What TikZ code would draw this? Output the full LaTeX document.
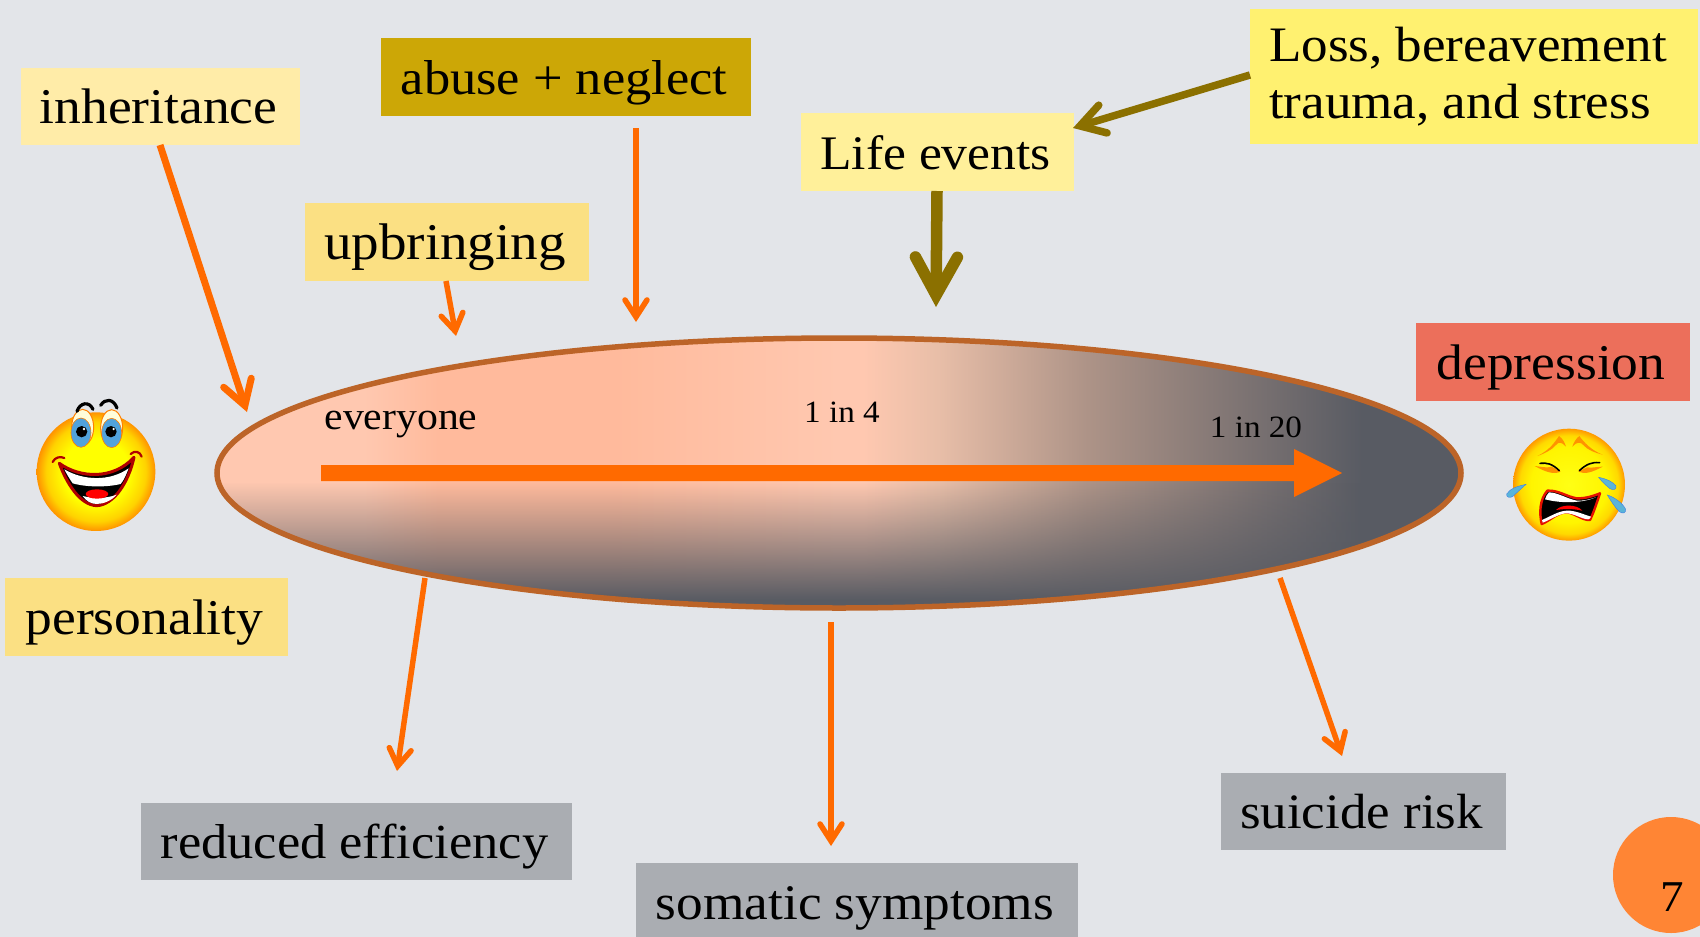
\documentclass[tikz,border=0pt]{standalone}
\usepackage{fontspec}
\setmainfont[FakeStretch=1.07]{Liberation Serif}
\usetikzlibrary{arrows.meta,fadings,shadings,shapes.geometric}
\definecolor{bg}{HTML}{E3E5E9}
\definecolor{org}{HTML}{FF6A00}
\definecolor{olv}{HTML}{8B7000}
\definecolor{grybox}{HTML}{AAADB2}
\definecolor{ellborder}{HTML}{BC6428}
\definecolor{darkg}{HTML}{585B63}
\definecolor{pchA}{HTML}{FFC8B0}
\definecolor{pchB}{HTML}{FFBA9C}
\definecolor{pchC}{HTML}{E8BEA8}
\definecolor{pchD}{HTML}{AD9387}
\definecolor{cInh}{HTML}{FFECA8}
\definecolor{cAbu}{HTML}{CCA706}
\definecolor{cUpb}{HTML}{FBE083}
\definecolor{cLif}{HTML}{FFF09A}
\definecolor{cLos}{HTML}{FFF170}
\definecolor{cDep}{HTML}{EC6F5B}
\definecolor{cPag}{HTML}{FF8534}
\definecolor{tear}{HTML}{5AB4D8}
\definecolor{mred}{HTML}{B00000}
% a tikz shade fits the path to the middle 50bp of the declared 100bp
\pgfdeclarehorizontalshading{ellshade}{100bp}{
  color(0bp)=(pchA);
  color(25bp)=(pchA);
  color(31bp)=(pchA);
  color(34bp)=(pchB);
  color(41bp)=(pchB);
  color(50bp)=(pchA);
  color(51bp)=(pchA);
  color(54bp)=(pchC);
  color(60bp)=(pchD);
  color(71bp)=(darkg);
  color(100bp)=(darkg)}
\pgfdeclareradialshading{happyface}{\pgfpointorigin}{
  color(0bp)=(yellow);
  color(14bp)=(yellow);
  color(21bp)=(yellow!65!orange);
  color(25bp)=(orange!85!yellow);
  color(100bp)=(orange!85!yellow)}
\pgfdeclareradialshading{sadface}{\pgfpointorigin}{
  color(0bp)=(yellow!92!white);
  color(17bp)=(yellow!92!orange);
  color(22bp)=(yellow!70!orange);
  color(25bp)=(orange!80!yellow);
  color(100bp)=(orange!80!yellow)}
\tikzfading[name=bottomfade, top color=transparent!100, bottom color=transparent!0]
\tikzset{
  x=1pt,y=-1pt,
  box/.style={font=\fontsize{#1}{57.5}\selectfont,inner sep=0pt,anchor=center,text=black,text height=44pt,text depth=10pt,execute at end node=\hspace*{4pt}},
  box/.default=50,
  thin arrow/.style={draw=org,line width=5.5pt,line join=miter,-{Straight Barb[length=17pt,width=22pt,line cap=round,line join=miter]}},
  mid arrow/.style={draw=org,line width=7pt,line join=miter,-{Straight Barb[length=24pt,width=29pt,line cap=round,line join=miter]}},
  olive arrow/.style={draw=olv,line width=7.5pt,line join=miter,-{Straight Barb[length=24pt,width=29pt,line cap=round,line join=miter]}},
  fat arrow/.style={draw=olv,line width=11.5pt,line join=miter,-{Straight Barb[length=38pt,width=42pt,line cap=round,line join=miter]}},
  small/.style={font=\fontsize{31}{35}\selectfont,inner sep=0pt,text=black},
}
\begin{document}
\begin{tikzpicture}
\useasboundingbox (0,0) rectangle (1700,937);
\fill[bg] (0,0) rectangle (1700,937);
% ellipse
\begin{scope}
\clip (839,473) ellipse [x radius=622,y radius=135];
\shade[shading=ellshade] (214,336) rectangle (1462,610);
\fill[darkg,path fading=bottomfade] (214,482) rectangle (1462,600);
\fill[darkg] (214,599.5) rectangle (1462,610);
\end{scope}
\node[draw=ellborder,line width=5.5pt,ellipse,minimum width=1244pt,minimum height=270pt,inner sep=0pt] (ell) at (839,473) {};
% boxes
\node[box,fill=cInh,minimum width=279pt,minimum height=77pt] (inh) at (160.5,106) {inheritance};
\node[box=49,fill=cAbu,minimum width=370pt,minimum height=78pt] (abu) at (566,77) {abuse + neglect};
\node[box=51.5,fill=cUpb,minimum width=284pt,minimum height=78pt] (upb) at (447,242) {upbringing};
\node[box=48.2,fill=cLif,minimum width=273pt,minimum height=78pt] (lif) at (937.5,152) {Life events};
\node[font=\fontsize{49.6}{57.5}\selectfont,inner sep=0pt,fill=cLos,minimum width=448pt,minimum height=135pt,align=left] (los) at (1474,76.5) {\raisebox{-3pt}{Loss, bereavement}\hspace*{12pt}\\\raisebox{-3pt}{trauma, and stress}};
\node[box,fill=cDep,minimum width=274pt,minimum height=78pt] (dep) at (1553,362) {depression};
\node[box,fill=cUpb,minimum width=283pt,minimum height=78pt] (per) at (146.5,617) {personality};
\node[box=49,fill=grybox,minimum width=431pt,minimum height=77pt] (red) at (356.5,841.5) {reduced efficiency};
\node[box=49.8,fill=grybox,minimum width=442pt,minimum height=78pt] (som) at (857,902) {somatic symptoms};
\node[box=49.5,fill=grybox,minimum width=285pt,minimum height=77pt] (sui) at (1363.5,811.5) {suicide risk};
% page badge
\fill[cPag] (1671,875) circle [radius=58];
\node[font=\fontsize{44}{50}\selectfont,inner sep=0pt] (pag) at (1672,897) {7};
% labels
\node[font=\fontsize{39}{44}\selectfont,inner sep=0pt] (eve) at (401,425) {everyone};
\node[small] (l4) at (842,412) {1 in 4};
\node[small] (l20) at (1256,427) {1 in 20};
% main block arrow
\fill[org] (321,465) -- (1294,465) -- (1294,449) -- (1342,473) -- (1294,497) -- (1294,481) -- (321,481) -- cycle;
% connector ends
\coordinate (a1s) at (160,145); \coordinate (a1e) at (247,412);
\coordinate (a2s) at (636,128); \coordinate (a2e) at (636,322);
\coordinate (a3s) at (446,281); \coordinate (a3e) at (456,336);
\coordinate (a4s) at (937,191); \coordinate (a4e) at (936,307);
\coordinate (a5s) at (1250,75); \coordinate (a5e) at (1073,128);
\coordinate (a6s) at (425,578); \coordinate (a6e) at (397,771);
\coordinate (a7s) at (831,622); \coordinate (a7e) at (831,846);
\coordinate (a8s) at (1280,578); \coordinate (a8e) at (1342,756);
\draw[mid arrow] (a1s) -- (a1e);
\draw[thin arrow] (a2s) -- (a2e);
\draw[thin arrow] (a3s) -- (a3e);
\draw[fat arrow] (a4s) -- (a4e);
\draw[olive arrow] (a5s) -- (a5e);
\draw[thin arrow] (a6s) -- (a6e);
\draw[thin arrow] (a7s) -- (a7e);
\draw[thin arrow] (a8s) -- (a8e);
% happy face (coordinates in 3x zoom pixels)
\begin{scope}[shift={(0,370)},x=0.3333pt,y=-0.3333pt]
\shade[shading=happyface] (288,305) circle [radius=178];
\fill[white!85!yellow,draw=orange,line width=1pt] (248,172) ellipse [x radius=33,y radius=54];
\fill[white!85!yellow,draw=orange,line width=1pt] (335,174) ellipse [x radius=33,y radius=55];
\fill[tear!90!blue,draw=orange,line width=.6pt] (243,188) ellipse [x radius=30,y radius=44];
\fill[tear!90!blue,draw=orange,line width=.6pt] (335,189) ellipse [x radius=30,y radius=44];
\fill[black] (245,185) circle [radius=17];
\fill[black] (333,185) circle [radius=17];
\fill[white] (252,177) circle [radius=4];
\fill[white] (341,177) circle [radius=4];
\draw[black,line width=3.2pt,line cap=round] (231,124) .. controls (240,97) and (268,93) .. (279,118);
\draw[black,line width=3.2pt,line cap=round] (302,106) .. controls (315,85) and (340,85) .. (351,114);
% mouth
\path[fill=black,draw=mred,line width=3pt,line join=round] (178,280) .. controls (240,325) and (340,330) .. (402,262) .. controls (385,340) and (340,405) .. (290,407) .. controls (240,405) and (200,340) .. (178,280) -- cycle;
\fill[white] (193,298) .. controls (250,332) and (330,335) .. (386,295) .. controls (378,315) and (372,330) .. (362,342) .. controls (320,352) and (260,352) .. (218,340) .. controls (208,325) and (200,312) .. (193,298) -- cycle;
\fill[white] (248,378) .. controls (280,386) and (320,386) .. (350,374) .. controls (335,392) and (310,402) .. (290,402) .. controls (272,402) and (258,392) .. (248,378) -- cycle;
\fill[red] (291,372) ellipse [x radius=34,y radius=14];
\draw[mred,line width=2.2pt,line cap=round] (158,276) .. controls (165,262) and (180,258) .. (193,264);
\draw[mred,line width=2.2pt,line cap=round] (392,252) .. controls (405,240) and (420,245) .. (425,260);
\end{scope}
% crying face
\begin{scope}[shift={(1450,400)},x=0.3333pt,y=-0.3333pt]
\shade[shading=sadface] (357,254) circle [radius=168];
\fill[orange!85!yellow] (262,168) .. controls (300,150) and (315,125) .. (327,108) .. controls (338,115) and (345,130) .. (348,140) .. controls (335,125) and (325,125) .. (318,135) .. controls (305,150) and (285,160) .. (262,168) -- cycle;
\fill[orange!85!yellow] (458,164) .. controls (425,152) and (400,125) .. (388,108) .. controls (378,115) and (370,130) .. (367,140) .. controls (380,125) and (392,125) .. (400,135) .. controls (412,150) and (435,158) .. (458,164) -- cycle;
\fill[orange!85!yellow] (254,198) .. controls (275,200) and (290,205) .. (305,200) .. controls (315,205) and (325,212) .. (332,215) .. controls (310,225) and (285,215) .. (254,198) -- cycle;
\fill[orange!85!yellow] (458,200) .. controls (440,200) and (425,205) .. (412,202) .. controls (402,205) and (392,212) .. (385,215) .. controls (405,225) and (430,215) .. (458,200) -- cycle;
\draw[black,line width=1.6pt,line cap=round] (270,190) .. controls (290,188) and (305,190) .. (328,212);
\draw[black,line width=1.6pt,line cap=round] (449,188) .. controls (425,186) and (410,192) .. (388,212);
% mouth
\path[fill=black,draw=red!85!orange!90!black,line width=2.4pt,line join=round] (292,272) .. controls (325,270) and (350,290) .. (380,295) .. controls (405,296) and (430,288) .. (450,280) .. controls (440,310) and (430,340) .. (420,360) .. controls (395,362) and (370,335) .. (345,337) .. controls (320,340) and (295,365) .. (275,372) .. controls (268,340) and (268,300) .. (292,272) -- cycle;
\fill[white] (297,277) .. controls (325,278) and (350,296) .. (380,302) .. controls (400,303) and (420,298) .. (438,292) .. controls (400,308) and (340,312) .. (285,298) .. controls (288,288) and (292,282) .. (297,277) -- cycle;
\fill[white] (276,360) .. controls (310,345) and (330,330) .. (360,332) .. controls (385,335) and (405,345) .. (423,350) .. controls (420,355) and (418,358) .. (415,358) .. controls (395,358) and (370,338) .. (345,340) .. controls (320,345) and (300,360) .. (278,368) -- cycle;
\fill[red] (318,330) .. controls (335,312) and (380,312) .. (397,332) .. controls (370,326) and (345,326) .. (318,330) -- cycle;
% tears
\fill[tear,draw=tear!70!blue,line width=.4pt] (228,253) .. controls (205,258) and (180,265) .. (170,282) .. controls (168,292) and (180,296) .. (190,288) .. controls (200,278) and (215,265) .. (228,253) -- cycle;
\fill[tear,draw=tear!70!blue,line width=.4pt] (446,232) .. controls (465,235) and (490,245) .. (498,258) .. controls (500,268) and (490,272) .. (480,266) .. controls (470,258) and (455,245) .. (446,232) -- cycle;
\fill[tear,draw=tear!70!blue,line width=.4pt] (472,285) .. controls (495,292) and (520,312) .. (527,328) .. controls (528,340) and (518,342) .. (508,335) .. controls (495,322) and (482,302) .. (472,285) -- cycle;
\end{scope}
\end{tikzpicture}
\end{document}
